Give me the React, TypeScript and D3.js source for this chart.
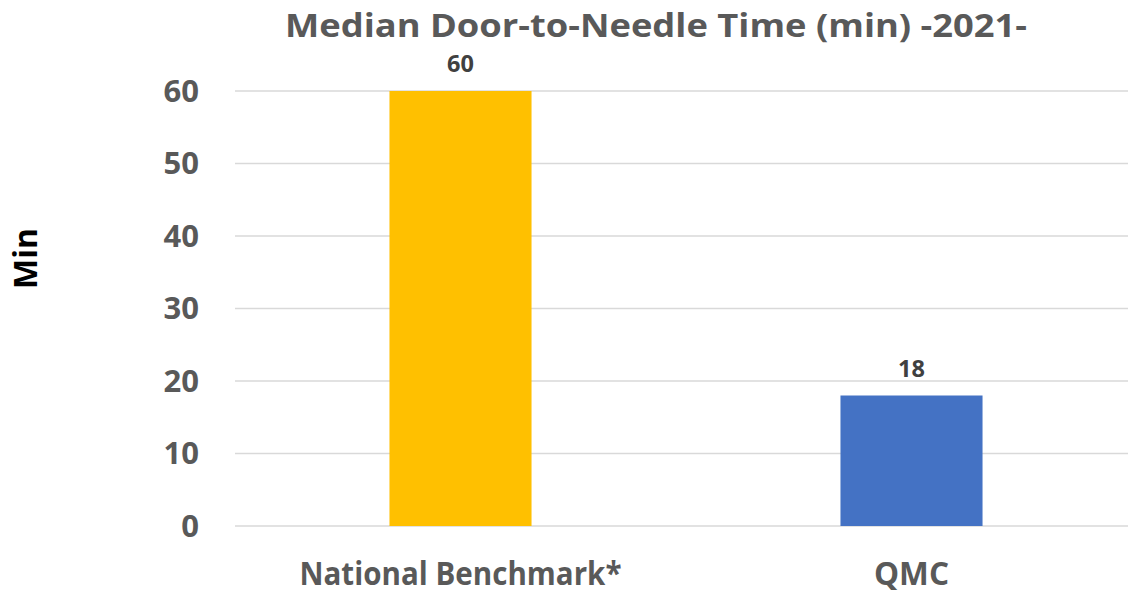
import React from "react";
import * as d3 from "d3";

const categories = ["National Benchmark*", "QMC"];
const values = [60, 18];
const barColors = ["#FFC000", "#4472C4"];
const yTicks = [0, 10, 20, 30, 40, 50, 60];
const title = "Median Door-to-Needle Time (min) -2021-";
const yAxisTitle = "Min";

const W = 1128;
const H = 593;
const FONT = "'Open Sans', 'Noto Sans', sans-serif";
const catWidths: Record<string, number> = { "National Benchmark*": 322, QMC: 75 };

export default function App() {
  const x = d3
    .scaleBand<string>()
    .domain(categories)
    .range([235, 1137])
    .paddingInner(0.685)
    .paddingOuter(0.3425);
  const y = d3.scaleLinear().domain([0, 60]).range([526, 91]);

  return (
    <svg
      width={W}
      height={H}
      style={{ position: "absolute", left: 0, top: 0, background: "#fff" }}
    >
      <rect x={0} y={0} width={W} height={H} fill="#fff" />
      <text
        x={656}
        y={37}
        textAnchor="middle"
        fontFamily={FONT}
        fontWeight={700}
        fontSize={33}
        fill="#595959"
        textLength={742}
        lengthAdjust="spacingAndGlyphs"
      >
        {title}
      </text>
      {yTicks.map((t) => (
        <g key={t}>
          <line
            x1={235}
            x2={W}
            y1={y(t)}
            y2={y(t)}
            stroke="#D9D9D9"
            strokeWidth={1.5}
          />
          <text
            x={199}
            y={y(t) + 10.5}
            textAnchor="end"
            fontFamily={FONT}
            fontWeight={700}
            fontSize={31}
            fill="#595959"
          >
            {t}
          </text>
        </g>
      ))}
      {categories.map((c, i) => {
        const bx = x(c)!;
        const bw = x.bandwidth();
        return (
          <g key={c}>
            <rect
              x={bx}
              y={y(values[i])}
              width={bw}
              height={y(0) - y(values[i])}
              fill={barColors[i]}
            />
            <text
              x={bx + bw / 2}
              y={y(values[i]) - 19}
              textAnchor="middle"
              fontFamily={FONT}
              fontWeight={700}
              fontSize={23.5}
              fill="#404040"
            >
              {values[i]}
            </text>
            <text
              x={bx + bw / 2}
              y={585}
              textAnchor="middle"
              fontFamily={FONT}
              fontWeight={700}
              fontSize={32}
              fill="#595959"
              textLength={catWidths[c]}
              lengthAdjust="spacingAndGlyphs"
            >
              {c}
            </text>
          </g>
        );
      })}
      <text
        transform="translate(37,258.5) rotate(-90)"
        textAnchor="middle"
        fontFamily={FONT}
        fontWeight={700}
        fontSize={32}
        fill="#000"
      >
        {yAxisTitle}
      </text>
    </svg>
  );
}
